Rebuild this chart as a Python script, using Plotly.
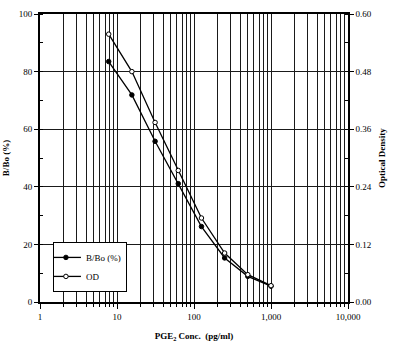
import plotly.graph_objects as go

conc = [7.8, 15.6, 31.25, 62.5, 125, 250, 500, 1000]
bbo = [83.5, 71.9, 55.8, 41.1, 26.2, 15.3, 8.9, 5.5]
od = [0.558, 0.480, 0.374, 0.274, 0.175, 0.102, 0.057, 0.034]

x_ticks = [1, 10, 100, 1000, 10000]
x_ticktext = ["1", "10", "100", "1,000", "10,000"]
x_minor = [m * d for d in [1, 10, 100, 1000] for m in range(2, 10)]

FONT = "Liberation Serif"
GRID = "#1a1a1a"

fig = go.Figure()
fig.add_trace(go.Scatter(
    x=conc, y=bbo, name="B/Bo (%)", mode="lines+markers",
    line=dict(color="black", width=1.3),
    marker=dict(symbol="circle", size=4.5, color="black", line=dict(color="black", width=1)),
))
fig.add_trace(go.Scatter(
    x=conc, y=od, name="OD", mode="lines+markers", yaxis="y2",
    line=dict(color="black", width=1.3),
    marker=dict(symbol="circle", size=4.5, color="white", line=dict(color="black", width=1)),
))

fig.update_layout(
    width=398, height=352,
    margin=dict(l=40, r=50, t=14, b=50),
    paper_bgcolor="white", plot_bgcolor="white",
    font=dict(family=FONT, size=9, color="black"),
    showlegend=True,
    legend=dict(x=0.042, y=0.035, xanchor="left", yanchor="bottom",
                bgcolor="white", bordercolor="black", borderwidth=1,
                font=dict(family=FONT, size=9), tracegroupgap=0,
                itemwidth=30, indentation=-8),
    xaxis=dict(
        type="log", range=[0, 4], automargin=False,
        tickmode="array", tickvals=x_ticks, ticktext=x_ticktext,
        ticks="outside", ticklen=5, tickcolor="black",
        showgrid=True, gridcolor=GRID, gridwidth=1,
        minor=dict(tickmode="array", tickvals=x_minor, ticks="outside", ticklen=3,
                   tickcolor="black", showgrid=True, gridcolor=GRID, gridwidth=1),
        showline=True, linecolor="black", linewidth=2, mirror=True,
        zeroline=False,
        title=dict(text="<b>PGE<sub>2</sub> Conc.  (pg/ml)</b>", font=dict(family=FONT, size=9), standoff=12),
        tickfont=dict(family=FONT, size=9),
    ),
    yaxis=dict(
        range=[0, 100], dtick=20, automargin=False,
        ticks="outside", ticklen=4, tickcolor="black",
        showgrid=True, gridcolor=GRID, gridwidth=1,
        minor=dict(dtick=10, ticks="inside", ticklen=3, tickcolor="black", showgrid=False),
        showline=True, linecolor="black", linewidth=2,
        zeroline=False,
        title=dict(text="<b>B/Bo (%)</b>", font=dict(family=FONT, size=9), standoff=8),
        tickfont=dict(family=FONT, size=9),
    ),
    yaxis2=dict(
        range=[0, 0.6], dtick=0.12, tickformat=".2f", automargin=False,
        overlaying="y", side="right",
        ticks="outside", ticklen=4, tickcolor="black",
        showgrid=False,
        minor=dict(dtick=0.06, ticks="inside", ticklen=3, tickcolor="black", showgrid=False),
        showline=True, linecolor="black", linewidth=1.5,
        zeroline=False,
        title=dict(text="<b>Optical Density</b>", font=dict(family=FONT, size=9), standoff=8),
        tickfont=dict(family=FONT, size=9),
    ),
)

fig.write_html("out.html")
